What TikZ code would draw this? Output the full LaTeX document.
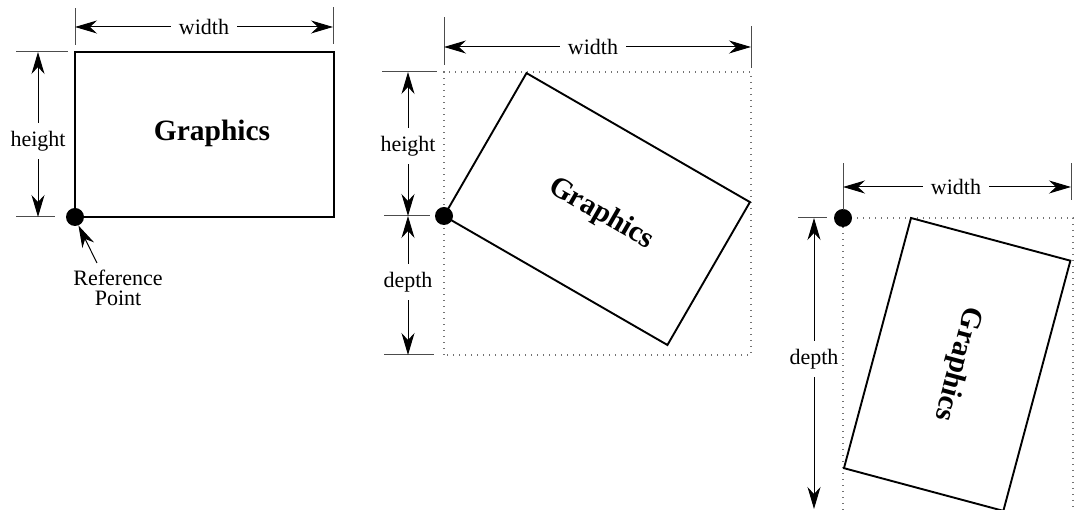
\documentclass[tikz,border=0pt]{standalone}
\usepackage{fontspec}
\setmainfont{Liberation Serif}
\usetikzlibrary{arrows.meta}
\begin{document}
\begin{tikzpicture}[x=1pt,y=1pt,
  dim/.style={line width=1pt,-{Stealth[length=22pt,width=13pt,inset=7pt]}},
  tickline/.style={line width=1pt, black!70},
  boxline/.style={line width=1.9pt, line join=miter},
  bound/.style={line width=1.4pt, black!55, dash pattern=on 1.4pt off 4.6pt},
  lbl/.style={font=\fontsize{22}{20}\selectfont, inner sep=8pt},
  gfx/.style={font=\bfseries\fontsize{29.5}{32}\selectfont, inner sep=0pt},
  refdot/.style={circle, fill=black, minimum size=18pt, inner sep=0pt}]
\useasboundingbox (0,0) rectangle (1074,510);

% ---------- left ----------
\draw[boxline] (75,293) rectangle (334,458);
\node[gfx] (lg) at (212,377) {Graphics};
\node[refdot] (ldot) at (75,293) {};
\draw[tickline] (75,465) -- (75,502);
\draw[tickline] (333,466) -- (333,503);
\coordinate (lwl) at (75,483);
\coordinate (lwr) at (333,483);
\node[lbl] (lw) at (204,483) {width};
\draw[dim] (lw) -- (lwl);
\draw[dim] (lw) -- (lwr);
\draw[tickline] (16,458) -- (68,458);
\draw[tickline] (16,293) -- (55,293);
\coordinate (lht) at (38,458);
\coordinate (lhb) at (38,293);
\node[lbl] (lh) at (38,369) {height};
\draw[dim] (lh) -- (lht);
\draw[dim] (lh) -- (lhb);
\node[lbl, align=center, inner sep=0pt] (lref) at (118,222) {Reference\\Point};
\coordinate (reft) at (97,247);
\draw[dim] (reft) -- (ldot.-68);

% ---------- middle ----------
\coordinate (mO) at (444,294);
\draw[bound] (444,155) rectangle (751,438);
\draw[boxline] (mO) -- ++(-30:258) -- ++(60:165) -- ++(150:258) -- cycle;
\node[gfx, rotate=-30] (mg) at (601,296) {Graphics};
\node[refdot] (mdot) at (mO) {};
\draw[tickline] (444,445) -- (444,493);
\draw[tickline] (751,442) -- (751,484);
\coordinate (mwl) at (444,463);
\coordinate (mwr) at (751,463);
\node[lbl] (mw) at (593,463) {width};
\draw[dim] (mw) -- (mwl);
\draw[dim] (mw) -- (mwr);
\draw[tickline] (382,438) -- (437,438);
\draw[tickline] (384,294) -- (430,294);
\draw[tickline] (384,155) -- (434,155);
\coordinate (mht) at (408,438);
\coordinate (mhm) at (408,294);
\coordinate (mhb) at (408,155);
\node[lbl] (mh) at (408,364) {height};
\node[lbl] (md) at (408,228) {depth};
\draw[dim] (mh) -- (mht);
\draw[dim] (mh) -- (mhm);
\draw[dim] (md) -- (mhm);
\draw[dim] (md) -- (mhb);

% ---------- right ----------
\coordinate (rO) at (911,292);
\draw[bound] (843,0) -- (843,292) -- (1073,292) -- (1073,0);
\draw[boxline] (rO) -- ++(-105:259) -- ++(-15:165) -- ++(75:259) -- cycle;
\node[gfx, rotate=-105] (rg) at (957,146) {Graphics};
\node[refdot] (rdot) at (843,292) {};
\draw[tickline] (843,300) -- (843,347);
\draw[tickline] (1071,310) -- (1071,347);
\coordinate (rwl) at (843,323);
\coordinate (rwr) at (1071,323);
\node[lbl] (rw) at (956,323) {width};
\draw[dim] (rw) -- (rwl);
\draw[dim] (rw) -- (rwr);
\draw[tickline] (798,292) -- (827,292);
\coordinate (rdt) at (814,292);
\coordinate (rdb) at (814,1);
\node[lbl] (rd) at (814,151) {depth};
\draw[dim] (rd) -- (rdt);
\draw[dim] (rd) -- (rdb);
\end{tikzpicture}
\end{document}
